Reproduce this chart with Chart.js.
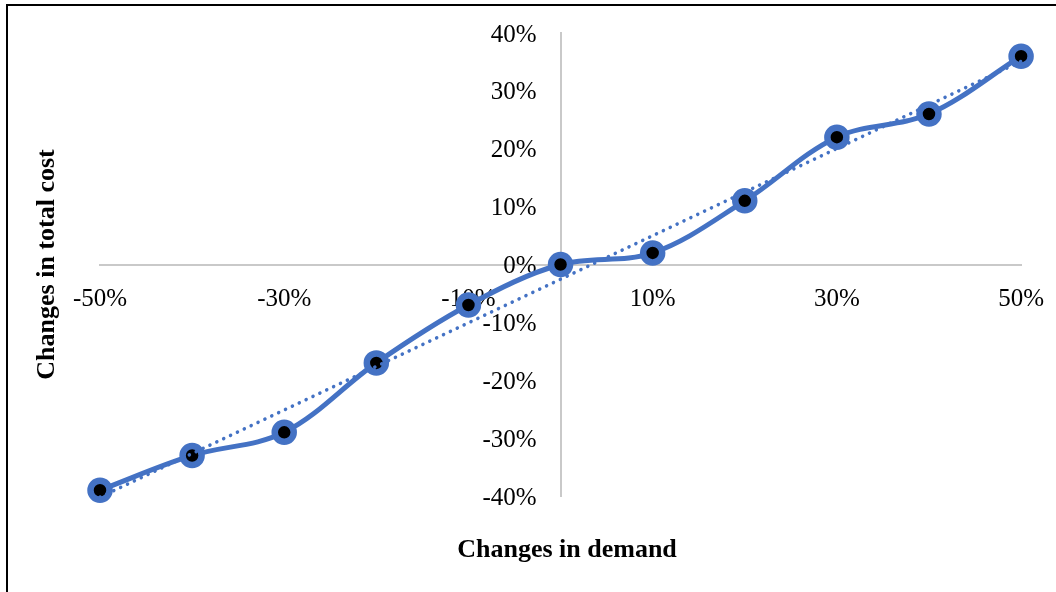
<!DOCTYPE html>
<html>
<head>
<meta charset="utf-8">
<script src="https://cdn.jsdelivr.net/npm/chart.js@4/dist/chart.umd.min.js"></script>
<style>
  html, body { margin: 0; padding: 0; background: #ffffff; }
  #wrap { width: 1056px; height: 592px; position: relative; }
</style>
</head>
<body>
<div id="wrap"><canvas id="c" width="1056" height="592"></canvas></div>
<script>
// Sensitivity of total cost to demand changes (percent)
const demandChanges = [-50, -40, -30, -20, -10, 0, 10, 20, 30, 40, 50];
const costChanges = [-39, -33, -29, -17, -7, 0, 2, 11, 22, 26, 36];

// Linear trendline end points
const trendX = [-50, 50];
const trendY = [-40.2, 35.1];

const xTitle = 'Changes in demand';
const yTitle = 'Changes in total cost';

const blue = '#4472C4';
const axisGray = '#c9c9c9';
const serif = '"Liberation Serif", "Times New Roman", serif';
const tickSize = 25;

const toPoints = (xs, ys) => xs.map((x, i) => ({ x: x, y: ys[i] }));

// Outer frame, y tick labels beside the crossing axis, and axis titles
const decorations = {
  id: 'decorations',
  beforeDraw(chart) {
    const ctx = chart.ctx;
    ctx.save();
    ctx.fillStyle = '#ffffff';
    ctx.fillRect(0, 0, chart.width, chart.height);
    ctx.strokeStyle = '#000000';
    ctx.lineWidth = 2;
    ctx.beginPath();
    ctx.moveTo(7, 592);
    ctx.lineTo(7, 5);
    ctx.lineTo(1056, 5);
    ctx.stroke();
    ctx.restore();
  },
  beforeDatasetsDraw(chart) {
    const ctx = chart.ctx;
    const xs = chart.scales.x;
    const ys = chart.scales.y;
    const axisX = xs.getPixelForValue(0);
    ctx.save();
    ctx.fillStyle = '#000000';
    ctx.font = tickSize + 'px ' + serif;
    ctx.textAlign = 'right';
    ctx.textBaseline = 'middle';
    ys.ticks.forEach(t => {
      ctx.fillText(t.value + '%', axisX - 24, ys.getPixelForValue(t.value) + 2);
    });
    ctx.restore();
  },
  afterDraw(chart) {
    const ctx = chart.ctx;
    const area = chart.chartArea;
    ctx.save();
    ctx.fillStyle = '#000000';
    ctx.font = 'bold 26px ' + serif;
    ctx.textAlign = 'center';
    ctx.textBaseline = 'middle';
    ctx.fillText(xTitle, 567, 550);
    ctx.translate(47, (area.top + area.bottom) / 2);
    ctx.rotate(-Math.PI / 2);
    ctx.fillText(yTitle, 0, 0);
    ctx.restore();
  }
};

new Chart(document.getElementById('c'), {
  type: 'line',
  data: {
    datasets: [
      {
        label: 'Trend',
        data: toPoints(trendX, trendY),
        borderColor: blue,
        borderWidth: 3.5,
        borderDash: [0.1, 7.5],
        borderCapStyle: 'round',
        pointRadius: 0,
        fill: false,
        tension: 0,
        clip: false,
        order: 0
      },
      {
        label: 'Total cost',
        data: toPoints(demandChanges, costChanges),
        borderColor: blue,
        borderWidth: 5,
        tension: 0.35,
        pointRadius: 9.5,
        pointBorderWidth: 6.5,
        pointBackgroundColor: '#000000',
        pointBorderColor: blue,
        fill: false,
        clip: false,
        order: 1
      }
    ]
  },
  options: {
    responsive: false,
    animation: false,
    events: [],
    layout: { padding: { left: 100, right: 34, top: 33, bottom: 96 } },
    plugins: { legend: { display: false }, tooltip: { enabled: false } },
    scales: {
      x: {
        type: 'linear',
        position: { y: 0 },
        min: -50,
        max: 50,
        grid: { color: 'transparent', tickLength: 8 },
        border: { display: true, color: axisGray, width: 2 },
        ticks: {
          stepSize: 20,
          padding: 12,
          maxRotation: 0,
          color: '#000000',
          font: { family: serif, size: tickSize },
          callback: v => v + '%'
        }
      },
      y: {
        type: 'linear',
        position: { x: 0 },
        min: -40,
        max: 40,
        grid: { color: 'transparent', tickLength: 8 },
        border: { display: true, color: axisGray, width: 2 },
        ticks: {
          stepSize: 10,
          display: false,
          font: { family: serif, size: tickSize }
        }
      }
    }
  },
  plugins: [decorations]
});
</script>
</body>
</html>
